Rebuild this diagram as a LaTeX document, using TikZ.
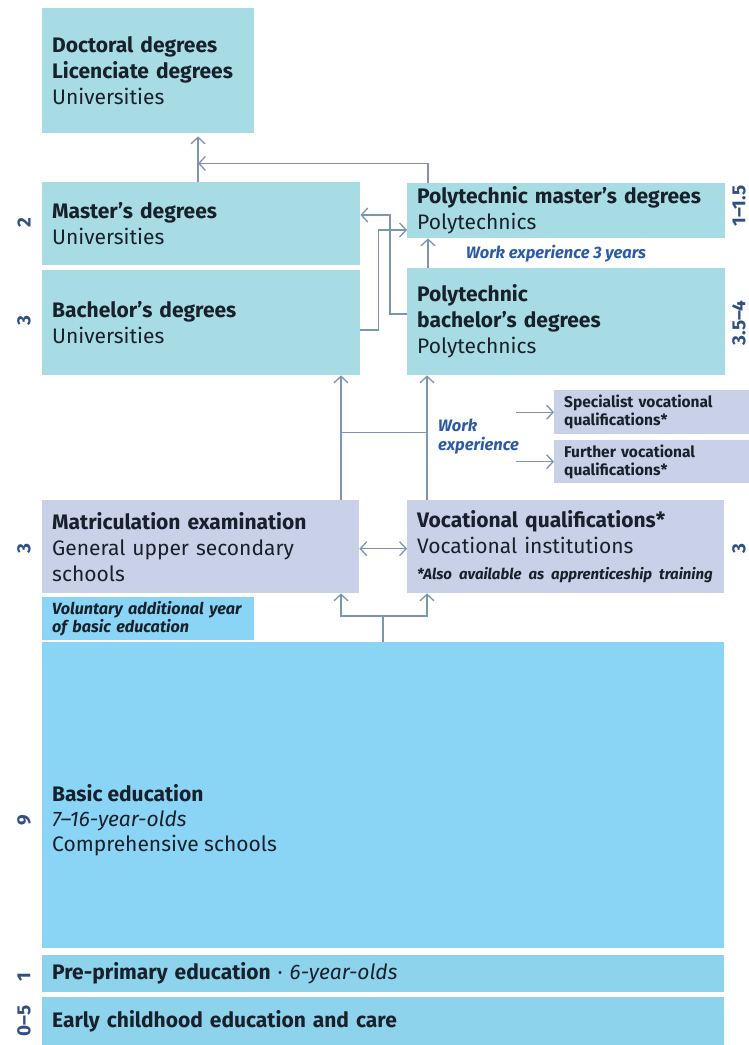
\documentclass[tikz,border=0pt]{standalone}
\usepackage{fontspec}
\setmainfont{Fira Sans}
\usetikzlibrary{arrows.meta}
\definecolor{tertc}{RGB}{168,220,228}
\definecolor{secc}{RGB}{201,209,232}
\definecolor{basicc}{RGB}{138,213,245}
\definecolor{prec}{RGB}{141,211,236}
\definecolor{linec}{RGB}{125,149,181}
\definecolor{numc}{RGB}{47,79,134}
\definecolor{txtc}{RGB}{23,32,43}
\definecolor{bluec}{RGB}{44,90,166}
\tikzset{
  box/.style={fill=#1, draw=none, anchor=north west, inner xsep=10pt, inner ysep=0pt,
    align=left, font=\fontsize{21}{26}\selectfont, text=txtc},
  smallbox/.style={fill=#1, draw=none, anchor=north west, inner xsep=10pt, inner ysep=0pt,
    align=left, font=\fontsize{15.5}{18}\selectfont\bfseries, text=txtc},
  num/.style={rotate=90, font=\fontsize{19}{19}\selectfont\bfseries, text=numc, inner sep=0pt},
  ln/.style={draw=linec, line width=1.3pt},
  arr/.style={ln, -{Straight Barb[length=6.5pt,width=14pt]}},
  darr/.style={ln, {Straight Barb[length=6.5pt,width=14pt]}-{Straight Barb[length=6.5pt,width=14pt]}},
  note/.style={font=\fontsize{16.5}{19}\selectfont\bfseries\itshape, text=bluec, inner sep=0pt, align=left}
}
\begin{document}
\begin{tikzpicture}[x=1pt,y=-1pt]
\useasboundingbox[fill=white] (0,0) rectangle (749,1045);
% tertiary
\node[box=tertc, minimum width=212pt, minimum height=125pt, text width=192pt] (doc) at (42,8)
  {\textbf{Doctoral degrees}\\\textbf{Licenciate degrees}\\Universities};
\node[box=tertc, minimum width=318pt, minimum height=83pt, text width=298pt] (mas) at (42,182)
  {\textbf{Master’s degrees}\\Universities};
\node[box=tertc, minimum width=318pt, minimum height=105pt, text width=298pt] (bac) at (42,270)
  {\textbf{Bachelor’s degrees}\\Universities};
\node[box=tertc, minimum width=318pt, minimum height=55pt, text width=298pt] (pm) at (407,183)
  {\textbf{Polytechnic master’s degrees}\\Polytechnics};
\node[box=tertc, minimum width=318pt, minimum height=107pt, text width=298pt] (pb) at (407,268)
  {\textbf{Polytechnic}\\\textbf{bachelor’s degrees}\\Polytechnics};
\node[note, anchor=center] (we3) at (556,254) {Work experience 3 years};
% vocational side boxes
\node[smallbox=secc, minimum width=195pt, minimum height=44pt, text width=175pt] (spec) at (554,390)
  {Specialist vocational\\qualifications*};
\node[smallbox=secc, minimum width=195pt, minimum height=43pt, text width=175pt] (fur) at (554,440)
  {Further vocational\\qualifications*};
\node[note, anchor=west] (we) at (438,437) {Work\\experience};
% secondary
\node[box=secc, minimum width=317pt, minimum height=93pt, text width=297pt] (mat) at (42,500)
  {\textbf{Matriculation examination}\\General upper secondary\\schools};
\node[box=secc, minimum width=317pt, minimum height=93pt, text width=297pt] (voc) at (407,500)
  {\textbf{Vocational qualifications*}\\Vocational institutions\\{\fontsize{15}{26}\selectfont\bfseries\itshape *Also available as apprenticeship training}};
\node[smallbox=basicc, minimum width=212pt, minimum height=43pt, text width=192pt,
  font=\fontsize{16.2}{18}\selectfont\bfseries\itshape] (vol) at (42,597)
  {Voluntary additional year\\of basic education};
% basic
\node[box=basicc, minimum width=682pt, minimum height=306pt] (basic) at (42,642) {};
\node[anchor=west, align=left, inner sep=0pt, font=\fontsize{21}{25}\selectfont, text=txtc] (basictxt) at (52,820)
  {\textbf{Basic education}\\\textit{7–16-year-olds}\\Comprehensive schools};
\node[box=prec, minimum width=682pt, minimum height=37pt, text width=662pt] (pre) at (42,955)
  {\textbf{Pre-primary education} · \textit{6-year-olds}};
\node[box=prec, minimum width=682pt, minimum height=48pt, text width=662pt] (ecec) at (42,997)
  {\textbf{Early childhood education and care}};
% durations
\node[num] (n2) at (24,223) {2};
\node[num] (n3a) at (24,321) {3};
\node[num] (n3b) at (24,549) {3};
\node[num] (n9) at (24,820) {9};
\node[num] (n1) at (24,977) {1};
\node[num] (n05) at (24,1021) {0–5};
\node[num] (r1) at (739,206) {1–1.5};
\node[num] (r2) at (739,323) {3.5–4};
\node[num] (r3) at (739,549) {3};
% connectors
\draw[arr, shorten >=3pt] ([xshift=156pt]mas.north west) -- ([xshift=156pt]doc.south west);
\draw[arr] ([xshift=21pt]pm.north west) |- ([xshift=156pt,yshift=-30pt]doc.south west);
\draw[arr] ([yshift=-46pt]pb.north west) -- ++(-17,0) |- ([yshift=-33pt]mas.north east);
\draw[arr] ([yshift=-60pt]bac.north east) -- ++(18,0) |- ([yshift=-47pt]pm.north west);
\draw[arr] ([xshift=21pt]pb.north west) -- ([xshift=21pt]pm.south west);
\draw[arr] ([xshift=299pt]mat.north west) -- ([xshift=299pt]bac.south west);
\draw[arr] ([xshift=20pt]voc.north west) -- ([xshift=20pt]pb.south west);
\draw[ln] ([xshift=299pt,yshift=-57pt]bac.south west) -- ([xshift=20pt,yshift=-57pt]pb.south west);
\draw[arr] ([xshift=-38pt]spec.west) -- (spec.west);
\draw[arr] ([xshift=-38pt]fur.west) -- (fur.west);
\draw[darr] ([yshift=-2pt]mat.east) -- ([yshift=-2pt]voc.west);
\draw[ln] ([xshift=341pt]basic.north west) -- ++(0,-26) coordinate (bk);
\draw[arr] (bk) -| ([xshift=299pt]mat.south west);
\draw[arr] (bk) -| ([xshift=20pt]voc.south west);
\end{tikzpicture}
\end{document}
